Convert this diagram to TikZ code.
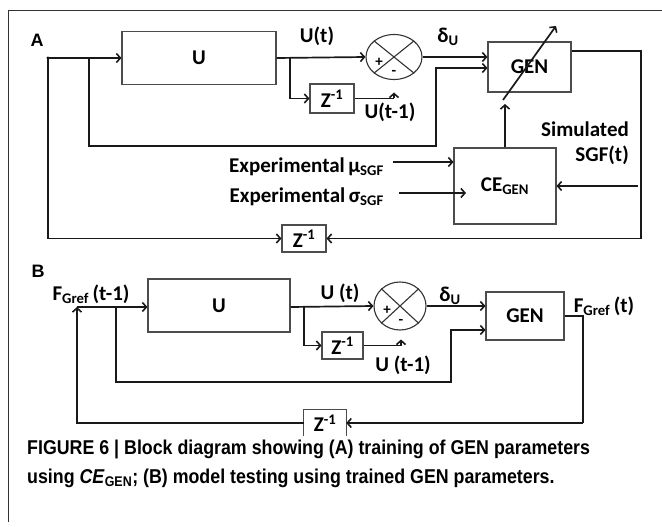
\documentclass[tikz,border=0pt]{standalone}
\usepackage{fontspec}
\setmainfont{Carlito}
\newfontfamily\capfont{Liberation Sans}[FakeStretch=0.89]
\newfontfamily\panelfont{Liberation Sans}
\usetikzlibrary{arrows.meta,shapes.geometric}

\tikzset{
  blk/.style={draw=black!70, line width=1.1pt, inner sep=0pt,
              font=\bfseries\fontsize{21}{23}\selectfont},
  wire/.style={line width=1.7pt, draw=black!90},
  arr/.style={wire, -{Straight Barb[length=4pt,width=9pt,line width=1.6pt]}},
  lbl/.style={font=\bfseries\fontsize{21}{25}\selectfont, inner sep=0pt},
  sign/.style={font=\bfseries\fontsize{15}{15}\selectfont, inner sep=0pt},
  sumj/.style={ellipse, draw=black!80, line width=1.1pt, inner sep=0pt},
  panel/.style={font=\panelfont\bfseries\fontsize{18}{18}\selectfont, inner sep=0pt},
  captext/.style={font=\capfont\bfseries\fontsize{20}{24}\selectfont, inner sep=0pt, anchor=base west},
}
\newcommand{\zinv}{Z\textsuperscript{-1}}

\begin{document}
\begin{tikzpicture}[x=1pt,y=-1pt]
\useasboundingbox (0,0) rectangle (662,527);

% frame
\draw[line width=1pt, black!80] (662,11) -- (8,11) -- (8,522);

% ---------------- panel A ----------------
\node[panel] (labA) at (37,40) {A};
\coordinate (inA) at (48,58);
\node[blk, minimum width=154pt, minimum height=53pt] (uA) at (199,58) {U};
\node[sumj, minimum width=56pt, minimum height=45pt] (sA) at (394,57) {};
\draw[line width=1.1pt, black!80] (sA.north west) -- (sA.south east) (sA.north east) -- (sA.south west);
\node[sign] at (379,62) {+};
\node[sign] at (394,73) {-};
\node[blk, minimum width=83pt, minimum height=50pt] (genA) at (529.5,67) {GEN};
\node[blk, minimum width=44pt, minimum height=29pt] (zA1) at (332,98.5) {\zinv};
\node[blk, minimum width=44pt, minimum height=27pt] (zA2) at (304,238.5) {\zinv};
\node[blk, minimum width=102pt, minimum height=76pt] (ceA) at (505,186) {CE\textsubscript{GEN}};

\node[lbl] (utA) at (317,36) {U(t)};
\node[lbl] (dA) at (448,37) {δ\textsubscript{U}};
\node[lbl] (ut1A) at (390,112) {U(t-1)};
\node[lbl, align=right, anchor=east] (simA) at (629,143) {Simulated\\SGF(t)};
\node[lbl, anchor=base east] (muA) at (384,172) {Experimental\,μ\textsubscript{SGF}};
\node[lbl, anchor=base east] (sgA) at (384,202) {Experimental\,σ\textsubscript{SGF}};

\coordinate (brA1) at (89,58);
\coordinate (brA2) at (290,58);
\coordinate (zoA) at (394,98.5);
\coordinate (rA) at (641,51);
\coordinate (simIn) at (638,186);
\coordinate (muIn) at (393,162);
\coordinate (sgIn) at (399,193);
\coordinate (sgTip) at (466,193);
\coordinate (tuneLo) at (503,100);
\coordinate (tuneHi) at (556,26);

\fill[black] (inA) circle (1.6pt);
\draw[arr] (inA) -- (uA.west);
\draw[arr] (uA.east) -- (sA.west);
\draw[arr] (brA2) |- (zA1.west);
\draw[wire] (zA1.east) -- (zoA);
\draw[arr] (zoA) -- ++(0,-6);
\draw[arr] (sA.east) -- (genA.west |- sA.east);
\draw[arr] (brA1) |- (436,146) |- (genA.west |- 0,68);
\draw[arr] (inA) |- (zA2.west);
\draw[wire] (genA.east |- rA) -| (rA |- zA2.east);
\draw[arr] (rA |- zA2.east) -- (zA2.east);
\draw[arr] (simIn) -- (ceA.east |- simIn);
\draw[arr] (muIn) -- (ceA.west |- muIn);
\draw[arr] (sgIn) -- (sgTip);
\draw[arr] (ceA.north) -- (505,104);
\draw[arr] (tuneLo) -- (tuneHi);

% ---------------- panel B ----------------
\node[panel] (labB) at (38,271) {B};
\coordinate (inB) at (77,307);
\node[lbl] (fin) at (91,294) {F\textsubscript{Gref}\,(t-1)};
\node[blk, minimum width=142pt, minimum height=53pt] (uB) at (219,305.5) {U};
\node[sumj, minimum width=52pt, minimum height=48pt] (sB) at (400,306) {};
\draw[line width=1.1pt, black!80] (sB.north west) -- (sB.south east) (sB.north east) -- (sB.south west);
\node[sign] at (387,310) {+};
\node[sign] at (401,322) {-};
\node[blk, minimum width=78pt, minimum height=48pt] (genB) at (525,316) {GEN};
\node[blk, minimum width=41pt, minimum height=27pt] (zB1) at (342.5,345.5) {\zinv};
\node[lbl, minimum width=42pt, minimum height=26pt] (zB2) at (325,423) {\zinv};
\draw[line width=1.1pt, black!70] (zB2.south west) -- (zB2.north west) -- (zB2.north east) -- (zB2.south east);

\node[lbl] (utB) at (340,293) {U (t)};
\node[lbl] (dB) at (450,296) {δ\textsubscript{U}};
\node[lbl] (ut1B) at (403,365) {U (t-1)};
\node[lbl] (fout) at (604,306) {F\textsubscript{Gref}\,(t)};

\coordinate (brB1) at (116,307);
\coordinate (brB2) at (304,307);
\coordinate (zoB) at (401,345.5);
\coordinate (rB) at (583,316);

\draw[arr] (inB) -- (uB.west |- inB);
\draw[arr] (uB.east |- inB) -- (sB.west);
\draw[arr] (brB2) |- (zB1.west);
\draw[wire] (zB1.east) -- (zoB);
\draw[arr] (zoB) -- ++(0,-6);
\draw[arr] (sB.east) -- (genB.west |- sB.east);
\draw[arr] (brB1) |- (451,382) |- (genB.west |- 0,330);
\draw[wire] (genB.east |- rB) -- (rB) -- (rB |- zB2.east);
\draw[arr] (rB |- zB2.east) -- (zB2.east);
\draw[arr] (zB2.west) -| (inB);

% ---------------- caption ----------------
\node[captext] (cap1) at (27,454) {FIGURE 6 | Block diagram showing (A) training of GEN parameters};
\node[captext] (cap2) at (27,483) {using \textit{CE}\textsubscript{GEN}; (B) model testing using trained GEN parameters.};
\end{tikzpicture}
\end{document}
